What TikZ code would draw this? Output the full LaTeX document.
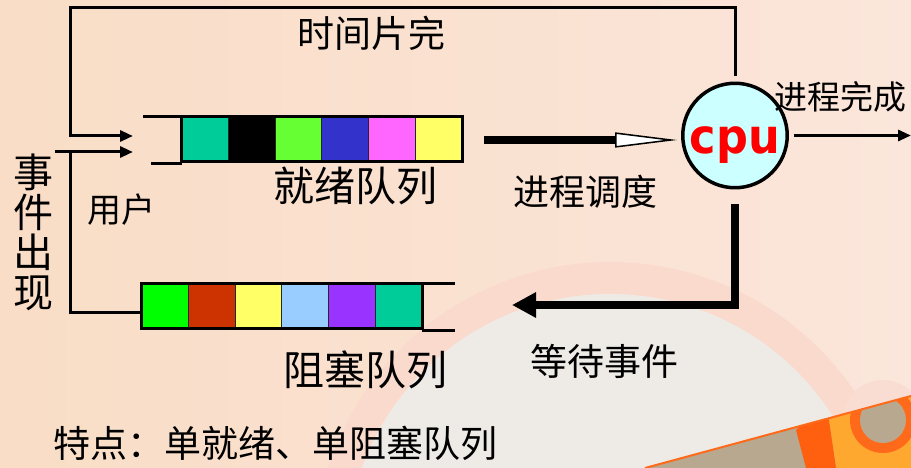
\documentclass[tikz,border=0pt]{standalone}
\usepackage{fontspec}
\newfontfamily\cjk{Noto Sans CJK SC}
\newfontfamily\cpufont{DejaVu Sans}
\usetikzlibrary{arrows.meta}

\definecolor{qTeal}{HTML}{00CC99}
\definecolor{qLime}{HTML}{66FF33}
\definecolor{qBlue}{HTML}{3333CC}
\definecolor{qPink}{HTML}{FF66FF}
\definecolor{qYellow}{HTML}{FFFF66}
\definecolor{bGreen}{HTML}{00FF00}
\definecolor{bRust}{HTML}{CC3300}
\definecolor{bSky}{HTML}{99CCFF}
\definecolor{bViolet}{HTML}{9933FF}
\definecolor{cpuFill}{HTML}{CCFFFF}
\definecolor{bgL}{HTML}{F9DDC6}
\definecolor{bgR}{HTML}{FBE6DB}
\definecolor{ringPink}{HTML}{FADACD}
\definecolor{paleGray}{HTML}{EEEBE7}
\definecolor{haloPink}{HTML}{F9DCD2}
\definecolor{taupe}{HTML}{B8A890}
\definecolor{amber}{HTML}{FFA830}
\definecolor{deepOrange}{HTML}{FF6010}
\definecolor{ringOrange}{HTML}{FF6A1A}

\begin{document}
\begin{tikzpicture}[x=1pt, y=-1pt,
  flow/.style={line width=3pt},
  bigflow/.style={line width=8pt},
  thin arrow/.style={flow, -{Triangle[length=13pt, width=11pt]}},
  queue/.style={minimum width=280pt, minimum height=45pt, inner sep=0pt},
  cell/.style={draw=black!85, line width=1pt},
  lbl/.style={inner sep=0pt, font=\cjk\fontsize{#1}{#1}\selectfont},
  cpunode/.style={circle, draw=black, line width=3.5pt, fill=cpuFill,
    minimum size=98pt, inner sep=0pt, text=red, text height=45pt, text depth=8pt,
    font=\cpufont\bfseries\fontsize{48}{48}\selectfont}]
% background
\useasboundingbox (0,0) rectangle (911,468);
\shade[left color=bgL, right color=bgR] (0,0) rectangle (911,468);
\fill[ringPink] (610,558) circle (296pt);
\fill[paleGray] (610,558) circle (264pt);
\fill[haloPink] (883,420) circle (40pt);
\begin{scope}
\clip (645,468) -- (911,396) -- (911,468) -- cycle;
\fill[taupe] (600,370) rectangle (911,468);
\fill[amber] (826,400) -- (911,370) -- (911,468) -- (836,468) -- cycle;
\fill[deepOrange] (796,430) -- (826,400) -- (836,468) -- (806,468) -- cycle;
\fill[ringOrange] (883,420) circle (33pt);
\fill[taupe] (883,420) circle (23pt);
\end{scope}
\draw[ringOrange, line width=2pt] (645,468) -- (911,396);

% ready queue
\path (322,139) node[queue] (rdy) {};
\foreach \c [count=\i from 0] in {qTeal,black,qLime,qBlue,qPink,qYellow}
  \filldraw[cell, fill=\c] ([xshift=\i*46.667pt]rdy.north west) rectangle ++(46.667,45);
\draw[line width=3pt] (rdy.south west) rectangle (rdy.north east);
\draw[line width=2.5pt] (rdy.north west) -- ++(-39,0);
\draw[line width=2.5pt] ([yshift=-2pt]rdy.south west) -- ++(-31,0);

% blocked queue
\path (282,306) node[queue] (blk) {};
\foreach \c [count=\i from 0] in {bGreen,bRust,qYellow,bSky,bViolet,qTeal}
  \filldraw[cell, fill=\c] ([xshift=\i*46.667pt]blk.north west) rectangle ++(46.667,45);
\draw[line width=3pt] (blk.south west) rectangle (blk.north east);
\draw[line width=2.5pt] (blk.north east) -- ++(33,0);
\draw[line width=2.5pt] ([yshift=-2pt]blk.south east) -- ++(33,0);

% cpu
\node[cpunode] (cpu) at (735,135.5) {\scalebox{0.93}[1]{cpu}};

% connectors
\coordinate (loopTL) at (70,8);
\coordinate (rdyTop) at (133,136);
\coordinate (rdyLow) at (133,152);
\coordinate (usrS) at (55,152);
\coordinate (dispS) at (484,140);
\coordinate (doneE) at (911,135.5);
\coordinate (waitE) at (512,305);
\draw[flow, shorten <=6pt, -{Triangle[length=13pt, width=11pt]}] (cpu.north) |- (loopTL) |- (rdyTop);
\draw[thin arrow] (usrS) -- (rdyLow);
\draw[flow] ([yshift=-6pt]blk.west) -| (usrS -| loopTL);
\draw[bigflow, shorten >=4pt, -{Triangle[length=62pt, width=15pt, line width=1.5pt, fill=white]}] (dispS) -- (dispS -| cpu.west);
\draw[thin arrow, shorten <=5pt] (cpu.east) -- (doneE);
\draw[bigflow, shorten <=15pt, -{Triangle[length=24pt, width=24pt]}] (cpu.south) |- (waitE);

% labels
\node[lbl=37] (tslice) at (371,33) {时间片完};
\node[lbl=34] (usr) at (121,210) {用户};
\node[lbl=40, align=center] (evt) at (33,232) {事\\件\\出\\现};
\node[lbl=41] (rdyLbl) at (355,186) {就绪队列};
\node[lbl=41] (blkLbl) at (365,370) {阻塞队列};
\node[lbl=36] (disp) at (585,192) {进程调度};
\node[lbl=33, anchor=west] (done) at (774,97) {进程完成};
\node[lbl=37] (wait) at (604,361) {等待事件};
\node[lbl=37, anchor=west] (note) at (53,443) {特点：单就绪、单阻塞队列};
\end{tikzpicture}
\end{document}
